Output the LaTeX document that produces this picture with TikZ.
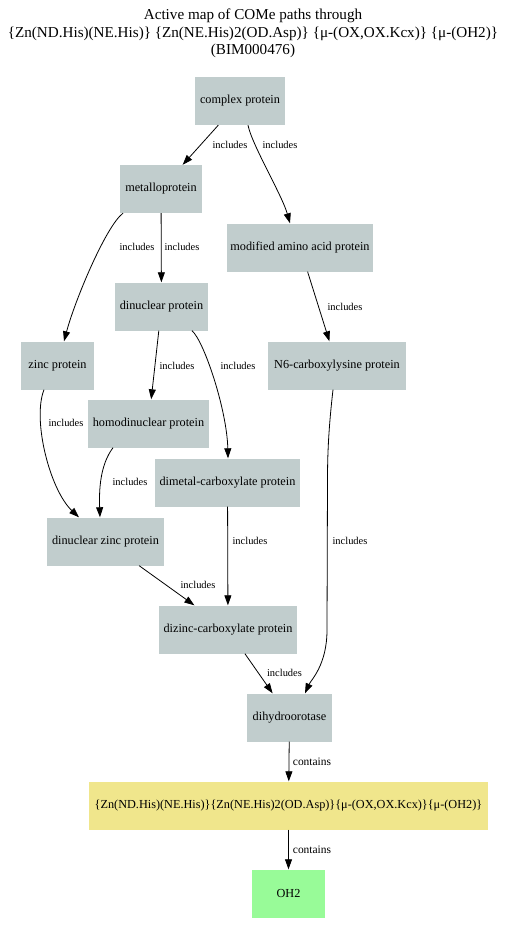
\documentclass[tikz,border=0pt]{standalone}
\usepackage{fontspec}
\setmainfont{Liberation Serif}
\usetikzlibrary{arrows.meta}
\definecolor{boxgray}{HTML}{C1CDCD}
\definecolor{boxkhaki}{HTML}{F0E68C}
\definecolor{boxgreen}{HTML}{98FB98}
\tikzset{
  box/.style={rectangle, fill=boxgray, inner sep=0pt, minimum height=48bp, font=\fontsize{12.3}{14}\selectfont},
  rel/.style={draw=black, line width=0.8bp, -{Triangle[length=10bp,width=7bp]}},
  lab/.style={inner sep=0pt, font=\fontsize{10.5}{12}\selectfont},
  clab/.style={inner sep=0pt, font=\fontsize{11.5}{13}\selectfont},
}
\begin{document}
\begin{tikzpicture}[x=1bp,y=-1bp]
\useasboundingbox (0,0) rectangle (506,934);
\node[align=center, inner sep=0pt, font=\fontsize{15.2}{17.5}\selectfont] (title) at (253,33.5)
  {Active map of COMe paths through\\{\{Zn(ND.His)(NE.His)\} \{Zn(NE.His)2(OD.Asp)\} \{μ-(OX,OX.Kcx)\} \{μ-(OH2)\}}\\(BIM000476)};

\node[box, minimum width=90bp] (complex) at (240,101) {complex protein};
\node[box, minimum width=82bp] (metallo) at (161,189) {metalloprotein};
\node[box, minimum width=146bp] (modified) at (300,247.5) {modified amino acid protein};
\node[box, minimum width=93bp] (dinuclear) at (161.5,306.5) {dinuclear protein};
\node[box, minimum width=73bp] (zinc) at (57.5,365.5) {zinc protein};
\node[box, minimum width=138bp] (nsix) at (337,365.5) {N6-carboxylysine protein};
\node[box, minimum width=121bp] (homo) at (148.5,423.5) {homodinuclear protein};
\node[box, minimum width=145bp] (dimetal) at (227.5,482.5) {dimetal-carboxylate protein};
\node[box, minimum width=117bp] (dzinc) at (105.5,541.5) {dinuclear zinc protein};
\node[box, minimum width=138bp] (dizinc) at (228,629.5) {dizinc-carboxylate protein};
\node[box, minimum width=85bp] (dihydro) at (289.5,717.5) {dihydroorotase};
\node[box, fill=boxkhaki, minimum width=399bp] (site) at (288.5,805.5) {\{Zn(ND.His)(NE.His)\}\{Zn(NE.His)2(OD.Asp)\}\{μ-(OX,OX.Kcx)\}\{μ-(OH2)\}};
\node[box, fill=boxgreen, minimum width=73bp] (oh) at (288.5,893.5) {OH2};

% connectors
\draw[rel] (complex) -- (metallo);
\draw[rel] ([xshift=8bp]complex.south) .. controls (252,145) and (282,195) .. ([xshift=-10bp]modified.north);
\draw[rel] ([xshift=-38bp]metallo.south) .. controls (106,226) and (75,300) .. ([xshift=6.5bp]zinc.north);
\draw[rel] (metallo) -- (dinuclear);
\draw[rel] (modified) -- (nsix);
\draw[rel] (dinuclear) -- (homo);
\draw[rel] ([xshift=30.5bp]dinuclear.south) .. controls (204,341) and (227,410) .. ([xshift=0.5bp]dimetal.north);
\draw[rel] ([xshift=-13.5bp]zinc.south) .. controls (32,420) and (50,490) .. ([xshift=-26.5bp]dzinc.north);
\draw[rel] ([xshift=-35.5bp]homo.south) .. controls (100,465) and (99,490) .. ([xshift=-5.5bp]dzinc.north);
\draw[rel] (dimetal) -- (dizinc);
\draw[rel] ([xshift=-4bp]nsix.south) .. controls (329,425) and (327.5,450) .. (327.5,480) -- (327,630) .. controls (327,665) and (311,680) .. ([xshift=15.5bp]dihydro.north);
\draw[rel] (dzinc) -- (dizinc);
\draw[rel] (dizinc) -- (dihydro);
\draw[rel] (dihydro) -- (site);
\draw[rel] (site) -- (oh);

% labels
\node[lab] (l1) at (230,145) {includes};
\node[lab] (l2) at (280,145) {includes};
\node[lab] (l3) at (137,247) {includes};
\node[lab] (l4) at (182,247) {includes};
\node[lab] (l5) at (345,307) {includes};
\node[lab] (l6) at (177,366) {includes};
\node[lab] (l7) at (238,366) {includes};
\node[lab] (l8) at (66,423) {includes};
\node[lab] (l9) at (130,482) {includes};
\node[lab] (l10) at (250,541) {includes};
\node[lab] (l11) at (350,541) {includes};
\node[lab] (l12) at (198,585) {includes};
\node[lab] (l13) at (284.5,673) {includes};
\node[clab] (l14) at (312,762) {contains};
\node[clab] (l15) at (312,850) {contains};
\end{tikzpicture}
\end{document}
